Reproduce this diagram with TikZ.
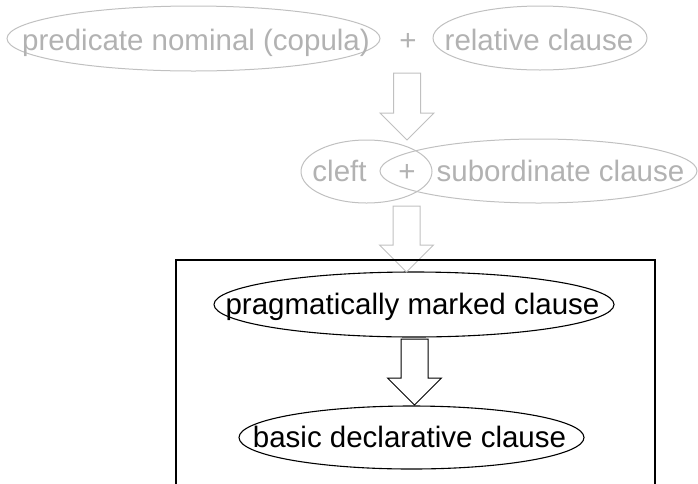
\documentclass[tikz,border=0pt]{standalone}
\usepackage{fontspec}
\setmainfont{Liberation Sans}
\usetikzlibrary{shapes.geometric,calc}
\definecolor{gtext}{RGB}{178,178,178}
\definecolor{gline}{RGB}{192,192,192}
\newcommand\blkarrow[3][]{%
  \draw[#1] ($(#2)+(-13.5,0)$) -- ($(#3)+(-13.5,-27)$) -- ($(#3)+(-27,-27)$) -- (#3)
    -- ($(#3)+(27,-27)$) -- ($(#3)+(13.5,-27)$) -- ($(#2)+(13.5,0)$) -- cycle;}
\begin{document}
\begin{tikzpicture}[x=1pt,y=-1pt,
  lbl/.style={font=\fontsize{29.5}{34}\selectfont, inner sep=0pt, anchor=base},
  glbl/.style={lbl, text=gtext},
  oval/.style={ellipse, draw, line width=1.1pt, inner sep=0pt},
  goval/.style={oval, draw=gline, line width=1pt},
  garrow/.style={draw=gline, line width=1pt, line join=miter},
  barrow/.style={draw=black, line width=1pt, line join=miter}]
\useasboundingbox (0,0) rectangle (698,483);
\clip (0,0) rectangle (698,483);
% top row
\node[goval, minimum width=373pt, minimum height=65pt] (pn) at (193.5,38.5) {};
\node[glbl] (pntext) at (196,50) {predicate nominal (copula)};
\node[glbl] (plus1) at (408,50) {+};
\node[goval, minimum width=214pt, minimum height=64pt] (rc) at (540,38) {};
\node[glbl] (rctext) at (539,50) {relative clause};
% second row
\node[goval, minimum width=131pt, minimum height=63pt] (cl) at (366.5,171.5) {};
\node[goval, minimum width=317pt, minimum height=64pt] (sc) at (538.5,171) {};
\node[glbl] (cltext) at (339.5,181) {cleft};
\node[glbl] (plus2) at (407,181) {+};
\node[glbl] (sctext) at (560.5,181) {subordinate clause};
% inner nodes
\node[oval, minimum width=400pt, minimum height=65pt] (pm) at (414,304.5) {};
\node[lbl] (pmtext) at (412.5,314) {pragmatically marked clause};
\node[oval, minimum width=345pt, minimum height=63pt] (bd) at (411.5,437.5) {};
\node[lbl] (bdtext) at (409.5,447) {basic declarative clause};
% arrow end points
\coordinate (a1s) at (407,73);
\coordinate (a1e) at (407,140);
\coordinate (a2s) at (406.5,206);
\coordinate (a2e) at (406.5,272);
\coordinate (a3s) at (414.5,339);
\coordinate (a3e) at (414.5,405);
\blkarrow[garrow]{a1s}{a1e}
\blkarrow[garrow]{a2s}{a2e}
\blkarrow[barrow]{a3s}{a3e}
% frame
\node[draw, line width=2pt, minimum width=479pt, minimum height=260pt, anchor=north west, inner sep=0pt] (frame) at (175,259) {};
\end{tikzpicture}
\end{document}
